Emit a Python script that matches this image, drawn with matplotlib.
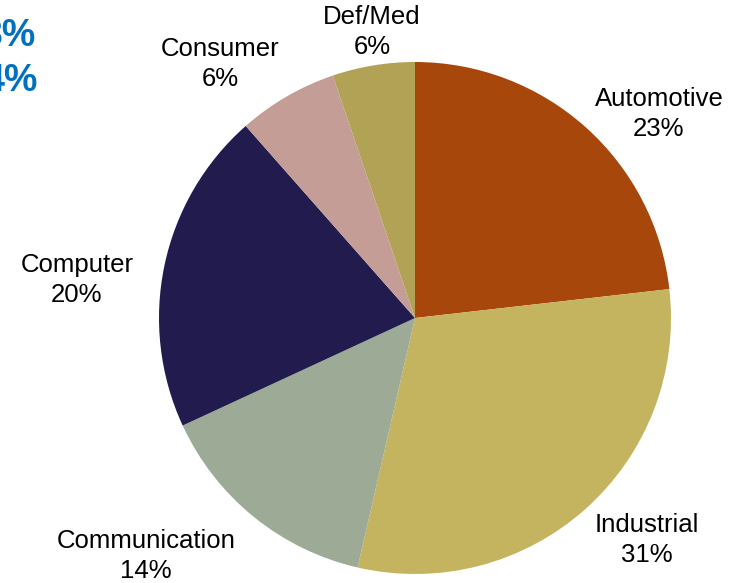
import matplotlib
matplotlib.use('Agg')
import matplotlib.pyplot as plt

# slice data, clockwise from 12 o'clock
segments = ['Automotive', 'Industrial', 'Communication', 'Computer', 'Consumer', 'Def/Med']
shares = [23.2, 30.4, 14.5, 20.4, 6.3, 5.2]
pct_labels = ['23%', '31%', '14%', '20%', '6%', '6%']
colors = ['#A8470C', '#C4B460', '#9CAA96', '#221C4E', '#C49E96', '#B2A256']

# label centres in pixels (from top-left)
label_pos = [(659, 114), (647, 540), (146, 556), (77, 280), (220, 64), (372, 32)]

W, H = 736, 583
fig = plt.figure(figsize=(W / 100, H / 100), dpi=100)
plt.rcParams['font.family'] = ['Liberation Sans', 'DejaVu Sans']

ax = fig.add_axes([0, 0, 1, 1])
ax.pie(shares, colors=colors, startangle=90, counterclock=False,
       center=(415, H - 318), radius=256, frame=True,
       wedgeprops=dict(linewidth=0))
ax.set_xlim(0, W)
ax.set_ylim(0, H)
ax.set_aspect('equal')
ax.axis('off')

for name, pct, (px, py) in zip(segments, pct_labels, label_pos):
    ax.text(px, H - py, name + '\n' + pct, ha='center', va='center',
            fontsize=18.5, color='black', linespacing=1.35)

# cut-off blue text at top-left (cropped in the original too)
fig.text(35 / W, 1 - 46 / H, '3%', ha='right', va='baseline',
         fontsize=27, fontweight='bold', color='#0070C0')
fig.text(38 / W, 1 - 91 / H, '4%', ha='right', va='baseline',
         fontsize=27, fontweight='bold', color='#0070C0')

fig.savefig('out.png', dpi=100)
